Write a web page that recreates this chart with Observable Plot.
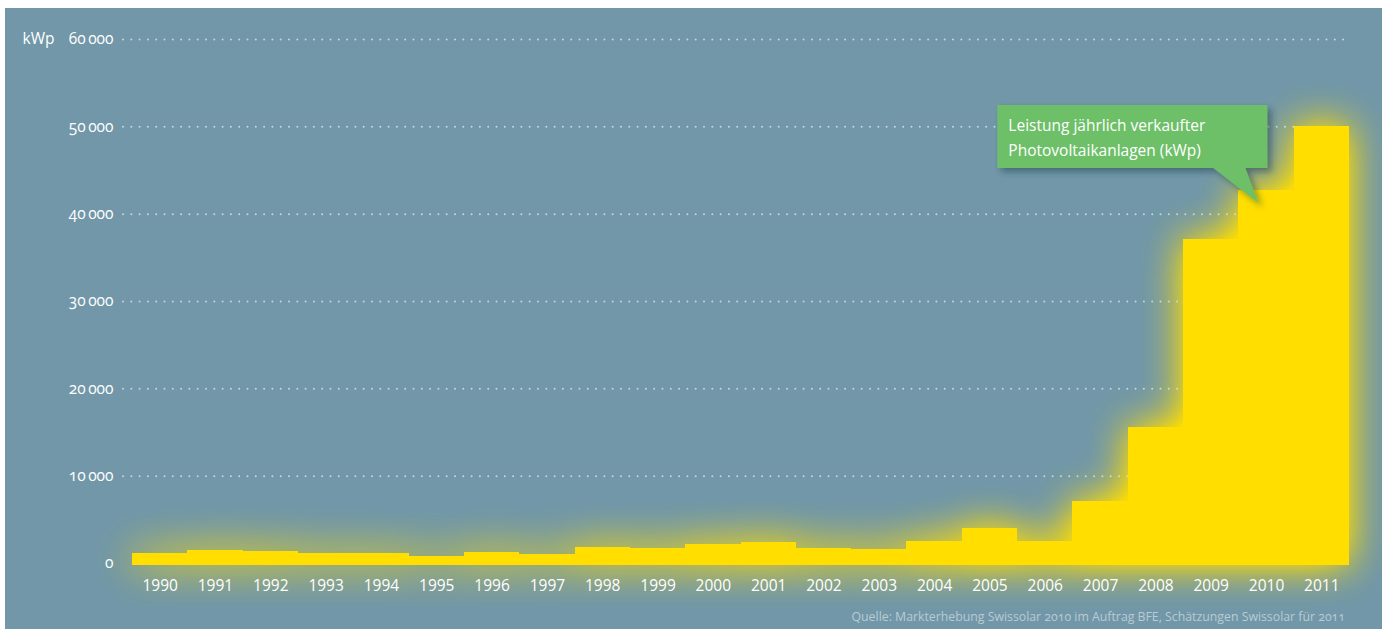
<!DOCTYPE html>
<html>
<head>
<meta charset="utf-8">
<script src="https://cdn.jsdelivr.net/npm/d3@7"></script>
<script src="https://cdn.jsdelivr.net/npm/@observablehq/plot@0.6"></script>
<style>
html, body { margin: 0; padding: 0; background: #ffffff; }
#panel { position: absolute; left: 5px; top: 8px; width: 1377px; height: 621px; background: #7197a8; overflow: hidden; font-family: "Open Sans", sans-serif; }
#chart svg { display: block; overflow: visible; }
#caption { position: absolute; right: 37px; top: 601px; font-size: 12.3px; line-height: 15px; color: #b9cbd4; font-variant-numeric: oldstyle-nums; white-space: nowrap; }
</style>
</head>
<body>
<div id="panel">
  <div id="chart"></div>
  <div id="caption"></div>
</div>
<script>
// ---- data ----
const years = ["1990","1991","1992","1993","1994","1995","1996","1997","1998","1999","2000",
               "2001","2002","2003","2004","2005","2006","2007","2008","2009","2010","2011"];
const kwp = [1200, 1500, 1400, 1150, 1150, 800, 1230, 1030, 1830, 1720, 2180,
             2370, 1720, 1600, 2520, 4010, 2490, 7140, 15550, 37100, 42700, 50000];
const yTicks = [0, 10000, 20000, 30000, 40000, 50000, 60000];
const unitLabel = "kWp";
const calloutYear = "2010";
const calloutLines = ["Leistung jährlich verkaufter", "Photovoltaikanlagen (kWp)"];
const captionText = "Quelle: Markterhebung Swissolar 2010 im Auftrag BFE, Schätzungen Swissolar für 2011";

const data = years.map((year, i) => ({year, kwp: kwp[i]}));
const yellow = "#ffde00";

const chart = Plot.plot({
  width: 1377,
  height: 596,
  marginLeft: 118,
  marginRight: 37,
  marginTop: 31,
  marginBottom: 41,
  style: {background: "transparent", fontFamily: "'Open Sans', sans-serif", color: "#ffffff", overflow: "visible"},
  x: {type: "band", domain: years, padding: 0, round: false, insetLeft: 9, insetRight: -4},
  y: {domain: [0, 60000]},
  marks: [
    // glow layer
    Plot.barY(data, {x: "year", y: "kwp", fill: yellow, insetBottom: -2, shapeRendering: "crispEdges", ariaDescription: "glow"}),
    // dotted grid
    Plot.ruleY(yTicks.slice(1), {stroke: "#d3e0e6", strokeWidth: 2, strokeDasharray: "0 8.3", strokeLinecap: "round", strokeOpacity: 0.85}),
    // bars
    Plot.barY(data, {x: "year", y: "kwp", fill: yellow, insetBottom: -2, shapeRendering: "crispEdges"}),
    Plot.axisY({ticks: yTicks, tickSize: 0, tickPadding: 10, label: null, fontSize: 15.5,
                tickFormat: d => d === 0 ? "0" : String(d).replace(/(\d+)(\d{3})$/, "$1\u2009$2")}),
    Plot.axisX({tickSize: 0, tickPadding: 16, label: null, fontSize: 15.5}),
    Plot.text([unitLabel], {y: [60000], text: d => d, frameAnchor: "left", dx: -101, textAnchor: "start", fontSize: 15.5, fill: "#ffffff"})
  ]
});

document.getElementById("chart").appendChild(chart);
document.getElementById("caption").textContent = captionText;

const svg = d3.select(chart);
svg.selectAll("g[aria-label='y-axis tick label'] text, g[aria-label='y-axis tick label']")
  .style("font-variant-numeric", "oldstyle-nums");

const defs = svg.insert("defs", ":first-child");
const glow = defs.append("filter").attr("id", "glow")
  .attr("x", "-20%").attr("y", "-30%").attr("width", "140%").attr("height", "160%");
glow.append("feGaussianBlur").attr("stdDeviation", 20).attr("result", "b");
const ct = glow.append("feComponentTransfer");
ct.append("feFuncA").attr("type", "linear").attr("slope", 1.4);
const shadow = defs.append("filter").attr("id", "shadow")
  .attr("x", "-10%").attr("y", "-20%").attr("width", "130%").attr("height", "160%");
shadow.append("feDropShadow").attr("dx", 4).attr("dy", 4).attr("stdDeviation", 3)
  .attr("flood-color", "#1b3442").attr("flood-opacity", 0.45);

let glowG = svg.select("g[aria-description='glow']");
if (glowG.empty()) glowG = svg.select("g[aria-label='bar']");
glowG.attr("filter", "url(#glow)").attr("opacity", 0.95);

// ---- callout anchored to the 2010 bar via the plot's scales ----
const sx = chart.scale("x"), sy = chart.scale("y");
const tipX = sx.apply(calloutYear) + 20;
const tipY = sy.apply(kwp[years.indexOf(calloutYear)]) + 13;
const c = svg.append("g").attr("filter", "url(#shadow)");
const L = tipX - 261, R = tipX + 9, T = tipY - 98, B = tipY - 35;
c.append("path")
  .attr("d", `M${L},${T}H${R}V${B}H${tipX - 13}L${tipX},${tipY}L${tipX - 45},${B}H${L}Z`)
  .attr("fill", "#6dbf67");
const t = svg.append("g").attr("font-size", 15.5).attr("fill", "#ffffff")
  .attr("text-anchor", "start").attr("font-family", "'Open Sans', sans-serif");
calloutLines.forEach((line, i) => {
  t.append("text").attr("x", tipX - 250).attr("y", tipY - 72 + i * 24.5).attr("text-anchor", "start").text(line);
});
</script>
</body>
</html>
